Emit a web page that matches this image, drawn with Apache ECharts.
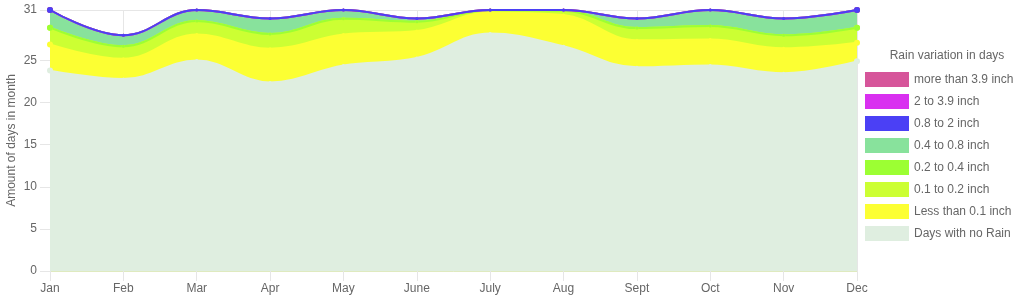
<!DOCTYPE html>
<html><head><meta charset="utf-8">
<script src="https://cdn.jsdelivr.net/npm/echarts@6/dist/echarts.min.js"></script>
<style>html,body{margin:0;padding:0;background:#fff}#c{width:1024px;height:300px}</style>
</head><body><div id="c"></div>
<script>
const months = ['Jan','Feb','Mar','Apr','May','June','July','Aug','Sept','Oct','Nov','Dec'];
const yTicks = [0, 5, 10, 15, 20, 25, 31];
const seriesNames = ['Days with no Rain','Less than 0.1 inch','0.1 to 0.2 inch','0.2 to 0.4 inch','0.4 to 0.8 inch','0.8 to 2 inch','2 to 3.9 inch','more than 3.9 inch'];
const noRain     = [23.8, 22.8, 25.0, 22.4, 24.4, 25.3, 28.2, 26.7, 24.2, 24.4, 23.5, 24.9];
const lessThan01 = [3.1, 2.4, 3.1, 4.0, 3.7, 3.2, 2.5, 3.7, 3.2, 3.1, 2.95, 2.2];
const from01to02 = [2.0, 1.5, 1.6, 1.75, 1.85, 1.1, 0.3, 0.5, 1.45, 1.6, 1.55, 1.8];
const from02to04 = [0, 0, 0, 0, 0, 0, 0, 0, 0, 0, 0, 0];
const from04to08 = [2.1, 1.3, 1.3, 1.85, 1.05, 0.4, 0, 0.1, 1.15, 1.9, 2.0, 2.1];
const from08to2  = [0, 0, 0, 0, 0, 0, 0, 0, 0, 0, 0, 0];
const from2to39  = [0, 0, 0, 0, 0, 0, 0, 0, 0, 0, 0, 0];
const moreThan39 = [0, 0, 0, 0, 0, 0, 0, 0, 0, 0, 0, 0];
const seriesValues = [noRain, lessThan01, from01to02, from02to04, from04to08, from08to2, from2to39, moreThan39];
const colors = ['#dfeee0','#fcff33','#ccff33','#9cff33','#88e29c','#4b40f5','#d930f0','#d6559a'];

const font = '"Liberation Sans", Arial, sans-serif';
const chart = echarts.init(document.getElementById('c'), null, {renderer: 'canvas'});
const lastIdx = months.length - 1;
const series = seriesNames.map((name, i) => ({
  name: name,
  type: 'line',
  stack: 'rain',
  smooth: 0.4,
  data: seriesValues[i],
  symbol: 'circle',
  symbolSize: (v, p) => (p.dataIndex === 0 || p.dataIndex === lastIdx) ? 6 : 3,
  showSymbol: true,
  z: name === '0.8 to 2 inch' ? 3 : 2,
  itemStyle: {color: colors[i]},
  lineStyle: {color: colors[i], width: 2},
  areaStyle: {color: colors[i], opacity: 1},
  emphasis: {disabled: true},
  animation: false
}));
chart.setOption({
  animation: false,
  textStyle: {fontFamily: font},
  title: {
    text: 'Rain variation in days',
    left: 947, top: 50, textAlign: 'center', padding: 0,
    textStyle: {fontSize: 12, color: '#666', fontWeight: 'normal', fontFamily: font}
  },
  legend: {
    orient: 'vertical',
    left: 865, top: 72, padding: 0,
    itemWidth: 44, itemHeight: 15, itemGap: 7,
    icon: 'rect',
    data: seriesNames.slice().reverse(),
    textStyle: {fontSize: 12, color: '#666', fontFamily: font},
    selectedMode: false
  },
  grid: {left: 50, right: 167, top: 10, bottom: 29, containLabel: false, outerBoundsMode: 'none'},
  xAxis: {
    type: 'category',
    data: months,
    boundaryGap: false,
    axisLine: {show: true, lineStyle: {color: '#dfeabf', width: 1}},
    axisTick: {show: true, length: 10, lineStyle: {color: '#e6e6e6'}},
    axisLabel: {margin: 12, fontSize: 12, color: '#666', fontFamily: font},
    splitLine: {show: true, lineStyle: {color: '#e6e6e6', width: 1}}
  },
  yAxis: {
    type: 'value',
    min: 0, max: 31,
    name: 'Amount of days in month',
    nameLocation: 'middle',
    nameGap: 32,
    nameMoveOverlap: false,
    nameTextStyle: {fontSize: 12, color: '#666', fontFamily: font},
    axisLine: {show: true, lineStyle: {color: '#e2ecc4'}},
    axisTick: {show: true, length: 10, lineStyle: {color: '#e6e6e6'}, customValues: yTicks},
    axisLabel: {margin: 13, fontSize: 12, color: '#666', fontFamily: font, customValues: yTicks},
    splitLine: {show: true, lineStyle: {color: '#e6e6e6', width: 1}}
  },
  series: series
});
</script></body></html>
